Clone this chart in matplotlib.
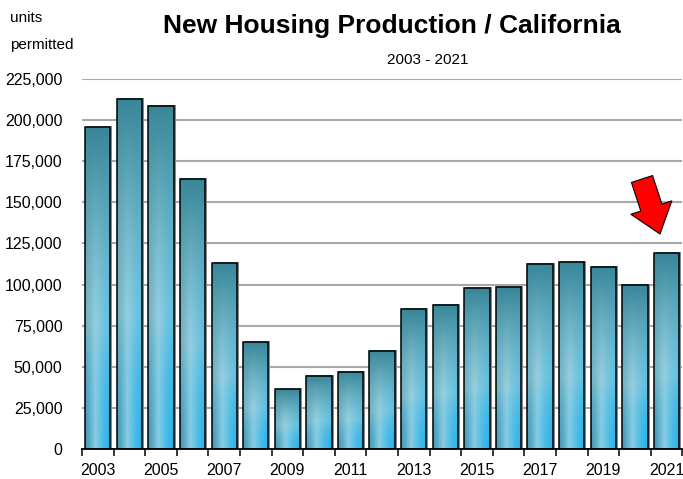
import numpy as np
import matplotlib
matplotlib.use("Agg")
import matplotlib.pyplot as plt
from matplotlib import transforms
from matplotlib.patches import Rectangle

plt.rcParams['font.family'] = ['Liberation Sans Narrow', 'Liberation Sans', 'DejaVu Sans']

years = list(range(2003, 2022))
units = [195700, 212900, 208900, 164300, 113000, 64900, 36400, 44700, 47000,
         59600, 85100, 87600, 97900, 98500, 112600, 113600, 110800, 100000, 119000]
yticks = [0, 25000, 50000, 75000, 100000, 125000, 150000, 175000, 200000, 225000]

title = "New Housing Production / California"
subtitle = "2003 - 2021"


def bar_gradient(nh=120, nw=40):
    # vertical: dark teal at top, pale in the middle, bright blue at bottom
    t = np.linspace(0, 1, nh)[:, None]
    u = np.linspace(0, 1, nw)[None, :]
    top = np.array([0.22, 0.53, 0.60])
    mid = np.array([0.56, 0.80, 0.86])
    bot = np.array([0.13, 0.70, 0.92])
    tt = t[..., None]
    vert = np.where(tt < 0.62, top + (mid - top) * (tt / 0.62),
                    mid + (bot - mid) * ((tt - 0.62) / 0.38))
    # horizontal banding, stronger toward the bottom
    us = [0.0, 0.12, 0.40, 0.70, 1.0]
    cs = np.array([[0.30, 0.58, 0.66], [0.36, 0.63, 0.71], [0.62, 0.83, 0.89],
                   [0.33, 0.74, 0.90], [0.12, 0.70, 0.93]])
    hb = np.stack([np.interp(u[0], us, cs[:, k]) for k in range(3)], axis=-1)[None, :, :]
    s = (t ** 1.3 * 0.85)[..., None]
    img = (1 - s) * vert + s * hb
    return np.clip(img, 0, 1)


grad = bar_gradient()

fig = plt.figure(figsize=(6.83, 4.79), dpi=100)
ax = fig.add_axes([0.12, 0.0626, 0.879, 0.7724])

w = 0.8
x = np.arange(len(years))
shadow = transforms.offset_copy(ax.transData, fig=fig, x=2, y=1, units='dots')
for xi, v in zip(x, units):
    ax.add_patch(Rectangle((xi - w / 2, 0), w, v, transform=shadow,
                           fc='#8a8a8a', ec='none', zorder=2))
    ax.imshow(grad, extent=[xi - w / 2, xi + w / 2, 0, v], aspect='auto',
              interpolation='bilinear', zorder=3)
    ax.add_patch(Rectangle((xi - w / 2, 0), w, v, fc='none', ec='black',
                           lw=1.1, zorder=4))

ax.set_xlim(-0.5, len(years) - 0.5)
ax.set_ylim(0, 225000)
ax.set_yticks(yticks)
ax.set_yticklabels([f"{v:,}" for v in yticks], fontsize=11.5)
ax.tick_params(axis='y', length=0, pad=14)
ax.yaxis.grid(True, color='#a8a8a8', lw=1.5, zorder=0)
ax.set_axisbelow(True)

ax.set_xticks(x[::2])
ax.set_xticklabels([str(y) for y in years[::2]], fontsize=11.5)
ax.set_xticks(np.arange(len(years) + 1) - 0.5, minor=True)
ax.tick_params(axis='x', which='major', length=0, pad=10)
ax.tick_params(axis='x', which='minor', length=5, width=1.1, direction='out')

for s in ['top', 'right', 'left']:
    ax.spines[s].set_visible(False)
ax.spines['bottom'].set_linewidth(1.3)
ax.spines['bottom'].set_zorder(5)

fig.text(392 / 683, 1 - 26 / 479, title, fontsize=19, fontweight='bold',
         ha='center', va='center')
fig.text(428 / 683, 1 - 60 / 479, subtitle, fontsize=11, ha='center', va='center')
fig.text(10 / 683, 1 - 18 / 479, "units", fontsize=11, ha='left', va='center')
fig.text(10 / 683, 1 - 45 / 479, "permitted", fontsize=11, ha='left', va='center')

ax.annotate('', xy=(660, 479 - 234), xytext=(642, 479 - 179), xycoords='figure pixels',
            textcoords='figure pixels',
            arrowprops=dict(arrowstyle='simple,head_length=1.0,head_width=1.55,tail_width=0.8',
                            mutation_scale=20, fc='#ff0000', ec='black', lw=0.8,
                            shrinkA=0, shrinkB=0))

fig.savefig("out.png", dpi=100)
